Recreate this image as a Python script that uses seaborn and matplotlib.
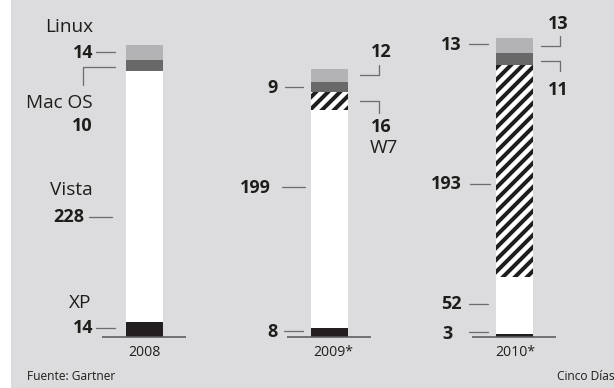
import matplotlib
matplotlib.use("Agg")
import matplotlib.pyplot as plt
import seaborn as sns
import numpy as np
from matplotlib.transforms import Affine2D
from matplotlib.patches import Rectangle
from matplotlib.lines import Line2D

# ---- data ----
years = ["2008", "2009*", "2010*"]
xp = [14, 8, 3]
vista = [228, 199, 52]
w7 = [0, 16, 193]
macos = [10, 9, 11]
linux = [14, 12, 13]
source = "Fuente: Gartner"
credit = "Cinco Días"

sns.set_theme(style="white")
plt.rcParams["font.family"] = ["Open Sans", "DejaVu Sans"]
plt.rcParams["hatch.linewidth"] = 4.0
plt.rcParams["hatch.color"] = "#1e1e1e"

W, H = 614, 388
fig = plt.figure(figsize=(W / 72, H / 72), dpi=72, facecolor="white")
px = Affine2D().scale(1 / W, -1 / H).translate(0, 1) + fig.transFigure

bg = Rectangle((11, 0), W - 11, H, transform=px, facecolor="#dcdcde",
               edgecolor="none", zorder=-10)
fig.patches.append(bg)

ax = fig.add_axes([0, 0, 1, 1])
ax.set_zorder(1)
ax.patch.set_alpha(0)

c_xp = np.array(xp)
c_vista = c_xp + np.array(vista)
c_w7 = c_vista + np.array(w7)
c_mac = c_w7 + np.array(macos)
c_linux = c_mac + np.array(linux)

layers = [
    (c_linux, "#b3b3b5", None),
    (c_mac, "#686869", None),
    (c_w7, "#ffffff", "//"),
    (c_vista, "#ffffff", None),
    (c_xp, "#231f20", None),
]
for vals, col, hatch in layers:
    sns.barplot(x=years, y=vals, order=years, color=col, width=0.2,
                saturation=1, errorbar=None, hatch=hatch,
                edgecolor="#1e1e1e", linewidth=0, ax=ax)

# baselines
for i in range(len(years)):
    ax.plot([i - 0.23, i + 0.225], [0, 0], color="#5a5a5a", lw=1.6,
            solid_capstyle="butt", zorder=5)

ax.set_xlim((0 - 144.5) / 185, (W - 144.5) / 185)
ax.set_ylim((337 - H) / 1.098, 337 / 1.098)
ax.axis("off")

LC = "#6d6d6d"
def seg(pts):
    xs, ys = zip(*pts)
    fig.lines.append(Line2D(xs, ys, transform=px, color=LC, lw=1.3, zorder=3))

def txt(x, y, s, ha="right", bold=False, size=19):
    fig.text(x, y, s, transform=px, ha=ha, va="center", fontsize=size,
             fontweight="bold" if bold else "normal", color="#1d1d1b",
             zorder=3)

B = 18
# 2008
txt(93, 27, "Linux")
txt(93, 53, str(linux[0]), bold=True, size=B)
seg([(96, 52), (115, 52)])
seg([(115, 67), (83, 67), (83, 85)])
txt(93, 103, "Mac OS")
txt(93, 126, str(macos[0]), bold=True, size=B)
txt(93, 190, "Vista")
txt(84, 217, str(vista[0]), bold=True, size=B)
seg([(89, 217), (112, 217)])
txt(91, 303, "XP")
txt(93, 328, str(xp[0]), bold=True, size=B)
seg([(96, 328), (115, 328)])

# 2009
txt(278, 88, str(macos[1]), bold=True, size=B)
seg([(285, 87), (303, 87)])
txt(381, 52, str(linux[1]), ha="center", bold=True, size=B)
seg([(360, 75), (379, 75), (379, 65)])
seg([(360, 101), (379, 101), (379, 113)])
txt(381, 127, str(w7[1]), ha="center", bold=True, size=B)
txt(384, 148, "W7", ha="center")
txt(271, 188, str(vista[1]), bold=True, size=B)
seg([(282, 187), (305, 187)])
txt(278, 332, str(xp[1]), bold=True, size=B)
seg([(284, 331), (303, 331)])

# 2010
txt(462, 45, str(linux[2]), bold=True, size=B)
seg([(469, 44), (488, 44)])
txt(558, 24, str(linux[2]), ha="center", bold=True, size=B)
seg([(541, 46), (560, 46), (560, 36)])
seg([(541, 61), (560, 61), (560, 71)])
txt(558, 90, str(macos[2]), ha="center", bold=True, size=B)
txt(462, 184, str(w7[2]), bold=True, size=B)
seg([(470, 184), (490, 184)])
txt(462, 304, str(vista[2]), bold=True, size=B)
seg([(469, 304), (488, 304)])
txt(453, 334, str(xp[2]), bold=True, size=B)
seg([(469, 332), (488, 332)])

# year labels
for xc, y in zip([144, 333, 515], years):
    txt(xc, 352, y, ha="center", size=14)

txt(27, 376, source, ha="left", size=12)
txt(615, 376, credit, ha="right", size=12)

fig.savefig("out.png", dpi=72, facecolor="white")
